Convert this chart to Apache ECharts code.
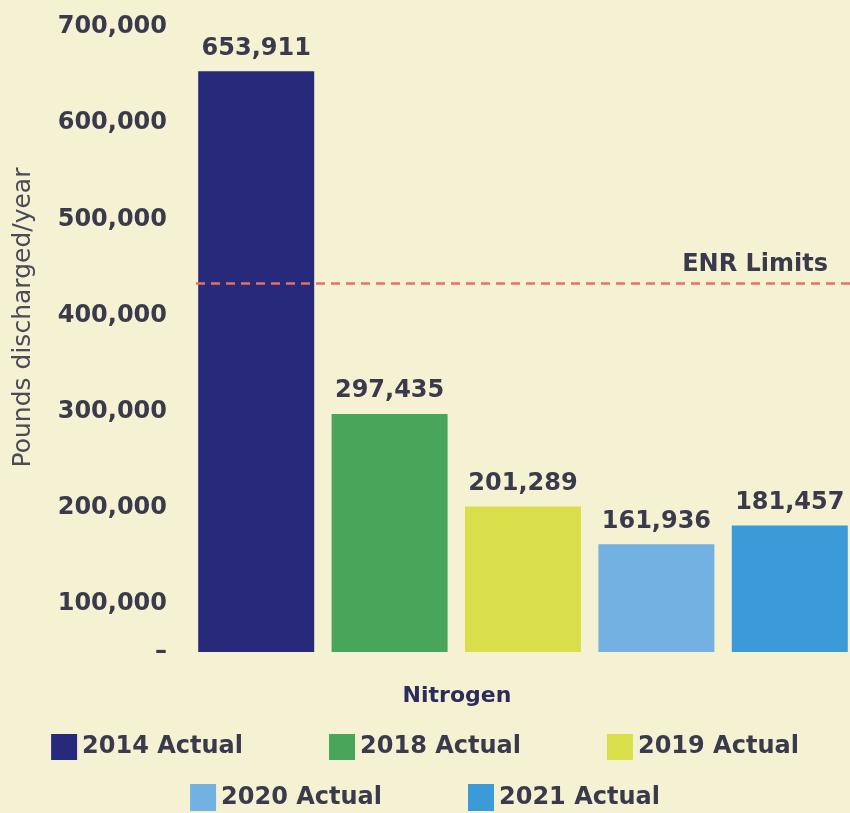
<!DOCTYPE html>
<html>
<head>
<meta charset="utf-8">
<script src="https://cdn.jsdelivr.net/npm/echarts@6/dist/echarts.min.js"></script>
<style>
html,body{margin:0;padding:0;background:#f4f2d2;}
#chart{width:850px;height:813px;}
</style>
</head>
<body>
<div id="chart"></div>
<script>
const categories = ['Nitrogen'];
const seriesNames = ['2014 Actual', '2018 Actual', '2019 Actual', '2020 Actual', '2021 Actual'];
const seriesValues = [653911, 297435, 201289, 161936, 181457];
const seriesColors = ['#27297a', '#48a55a', '#d9df4a', '#72b1e2', '#3b9bd8'];
const yTicks = [50000, 100000, 200000, 300000, 400000, 500000, 600000, 700000];
const yTickLabels = ['–', '100,000', '200,000', '300,000', '400,000', '500,000', '600,000', '700,000'];
const enrLimit = 434000;

const chart = echarts.init(document.getElementById('chart'), null, {renderer: 'canvas'});
const font = 'DejaVu Sans';
const textColor = '#3a3a4c';

const series = seriesNames.map((name, i) => {
  const s = {
    name: name,
    type: 'bar',
    data: [seriesValues[i]],
    barWidth: 116,
    barGap: '15%',
    itemStyle: {color: seriesColors[i]},
    label: {
      show: true,
      position: 'top',
      distance: 11,
      fontFamily: font,
      fontSize: 24,
      fontWeight: 'bold',
      color: textColor,
      formatter: p => p.value.toLocaleString('en-US')
    }
  };
  if (i === seriesNames.length - 1) {
    s.markLine = {
      silent: true,
      symbol: 'none',
      z: 10,
      lineStyle: {color: '#e4706a', type: [9, 6], width: 2.5},
      label: {
        show: true,
        position: 'insideEndTop',
        formatter: 'ENR Limits',
        fontFamily: font,
        fontSize: 24,
        fontWeight: 'bold',
        color: textColor,
        distance: [22, 6]
      },
      data: [{yAxis: enrLimit}]
    };
  }
  return s;
});

const legendText = {fontFamily: font, fontSize: 24, fontWeight: 'bold', color: textColor};

chart.setOption({
  backgroundColor: '#f4f2d2',
  animation: false,
  grid: {left: 196, right: 0, top: 27, bottom: 161, containLabel: false},
  legend: [
    {
      data: seriesNames.slice(0, 3),
      top: 729, left: 'center',
      itemWidth: 26, itemHeight: 26, itemGap: 86,
      icon: 'rect',
      textStyle: legendText
    },
    {
      data: seriesNames.slice(3),
      top: 779, left: 'center',
      itemWidth: 26, itemHeight: 27, itemGap: 86,
      icon: 'rect',
      textStyle: legendText
    }
  ],
  xAxis: {
    type: 'category',
    data: categories,
    axisLine: {show: false},
    axisTick: {show: false},
    axisLabel: {margin: 33, fontFamily: font, fontSize: 22, fontWeight: 'bold', color: '#2c2c5c', padding: [0, 132, 0, 0]}
  },
  yAxis: {
    type: 'value',
    min: 50000,
    max: 700000,
    name: 'Pounds discharged/year',
    nameLocation: 'middle',
    nameRotate: 90,
    nameGap: 160,
    nameTextStyle: {fontFamily: font, fontSize: 25, color: '#4a4a58', padding: [0, 0, 0, 44]},
    splitLine: {show: false},
    axisLine: {show: false},
    axisTick: {show: false},
    axisLabel: {
      customValues: yTicks,
      margin: 29,
      fontFamily: font,
      fontSize: 24,
      fontWeight: 'bold',
      color: textColor,
      formatter: v => yTickLabels[yTicks.indexOf(v)]
    }
  },
  series: series
});
</script>
</body>
</html>
